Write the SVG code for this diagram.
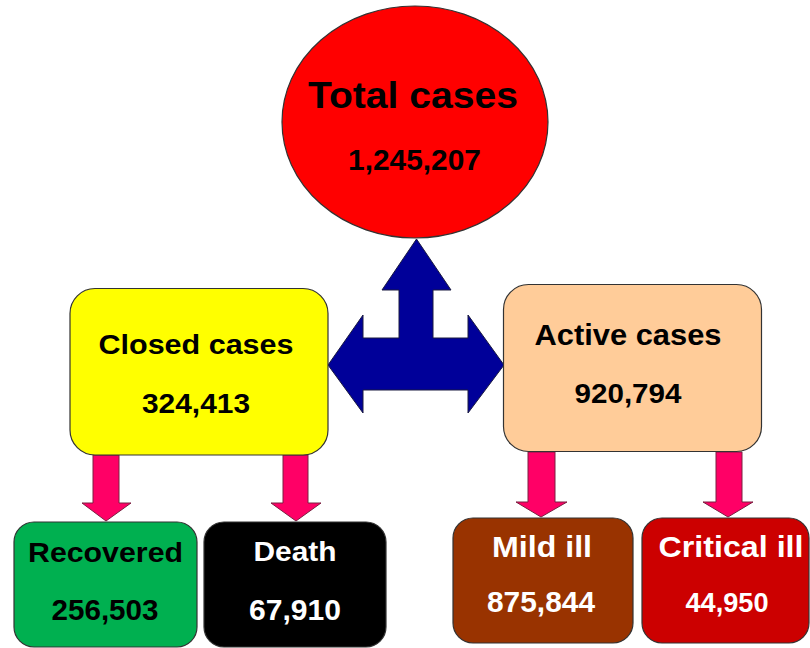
<svg xmlns="http://www.w3.org/2000/svg" width="810" height="648" viewBox="0 0 810 648">
<style>
.t{font-family:"Liberation Sans",Arial,sans-serif;font-weight:bold;text-anchor:middle}
.b{fill:#000}
.w{fill:#fff}
.box{stroke:#333;stroke-width:1.2}
.pink{fill:#FF0066;stroke:#7a2040;stroke-width:1}
</style>
<rect width="810" height="648" fill="#fff"/>
<g id="connectors">
<polygon fill="#000099" stroke="#1a1a40" stroke-width="1" points="416.5,239 451,290 433,290 433,338 468,338 468,315 504,365 468,413 468,390 363,390 363,413 328,365 363,315 363,338 399,338 399,290 382,290"/>
<polygon class="pink" points="93,455 119,455 119,503 131,503 106,521 82,503 93,503"/>
<polygon class="pink" points="283,455 308,455 308,503 321,503 296,521 271,503 283,503"/>
<polygon class="pink" points="528,452 555,452 555,502 567,502 541,517 516,502 528,502"/>
<polygon class="pink" points="716,452 742,452 742,502 753,502 728,517 703,502 716,502"/>
</g>
<g id="total">
<ellipse cx="415" cy="122" rx="133" ry="116" fill="#FF0000" stroke="#333" stroke-width="1.2"/>
<text class="t b" x="413" y="108" font-size="37" textLength="210" lengthAdjust="spacingAndGlyphs">Total cases</text>
<text class="t b" x="414.5" y="170" font-size="30" textLength="133" lengthAdjust="spacingAndGlyphs">1,245,207</text>
</g>
<g id="closed">
<rect class="box" x="70" y="288.5" width="258" height="166.5" rx="25" fill="#FFFF00"/>
<text class="t b" x="196" y="354" font-size="28" textLength="195" lengthAdjust="spacingAndGlyphs">Closed cases</text>
<text class="t b" x="196" y="413" font-size="28" textLength="108" lengthAdjust="spacingAndGlyphs">324,413</text>
</g>
<g id="active">
<rect class="box" x="503.5" y="284.5" width="258" height="167" rx="25" fill="#FFCC99"/>
<text class="t b" x="628" y="345" font-size="29" textLength="187" lengthAdjust="spacingAndGlyphs">Active cases</text>
<text class="t b" x="628" y="403" font-size="28" textLength="107" lengthAdjust="spacingAndGlyphs">920,794</text>
</g>
<g id="recovered">
<rect class="box" x="14" y="522" width="183" height="125" rx="20" fill="#00B050"/>
<text class="t b" x="105.5" y="562" font-size="28" textLength="155" lengthAdjust="spacingAndGlyphs">Recovered</text>
<text class="t b" x="105" y="620" font-size="29" textLength="107" lengthAdjust="spacingAndGlyphs">256,503</text>
</g>
<g id="death">
<rect class="box" x="204" y="522" width="182" height="125" rx="20" fill="#000000"/>
<text class="t w" x="295" y="561" font-size="28" textLength="83" lengthAdjust="spacingAndGlyphs">Death</text>
<text class="t w" x="295" y="620" font-size="29" textLength="92" lengthAdjust="spacingAndGlyphs">67,910</text>
</g>
<g id="mild">
<rect class="box" x="453" y="518" width="180" height="125" rx="20" fill="#993300"/>
<text class="t w" x="542" y="557" font-size="30" textLength="100" lengthAdjust="spacingAndGlyphs">Mild ill</text>
<text class="t w" x="541" y="612" font-size="29" textLength="108" lengthAdjust="spacingAndGlyphs">875,844</text>
</g>
<g id="critical">
<rect class="box" x="642" y="518" width="167" height="125" rx="20" fill="#CC0000"/>
<text class="t w" x="731" y="557" font-size="30" textLength="145" lengthAdjust="spacingAndGlyphs">Critical ill</text>
<text class="t w" x="727" y="612" font-size="27" textLength="83" lengthAdjust="spacingAndGlyphs">44,950</text>
</g>
</svg>
